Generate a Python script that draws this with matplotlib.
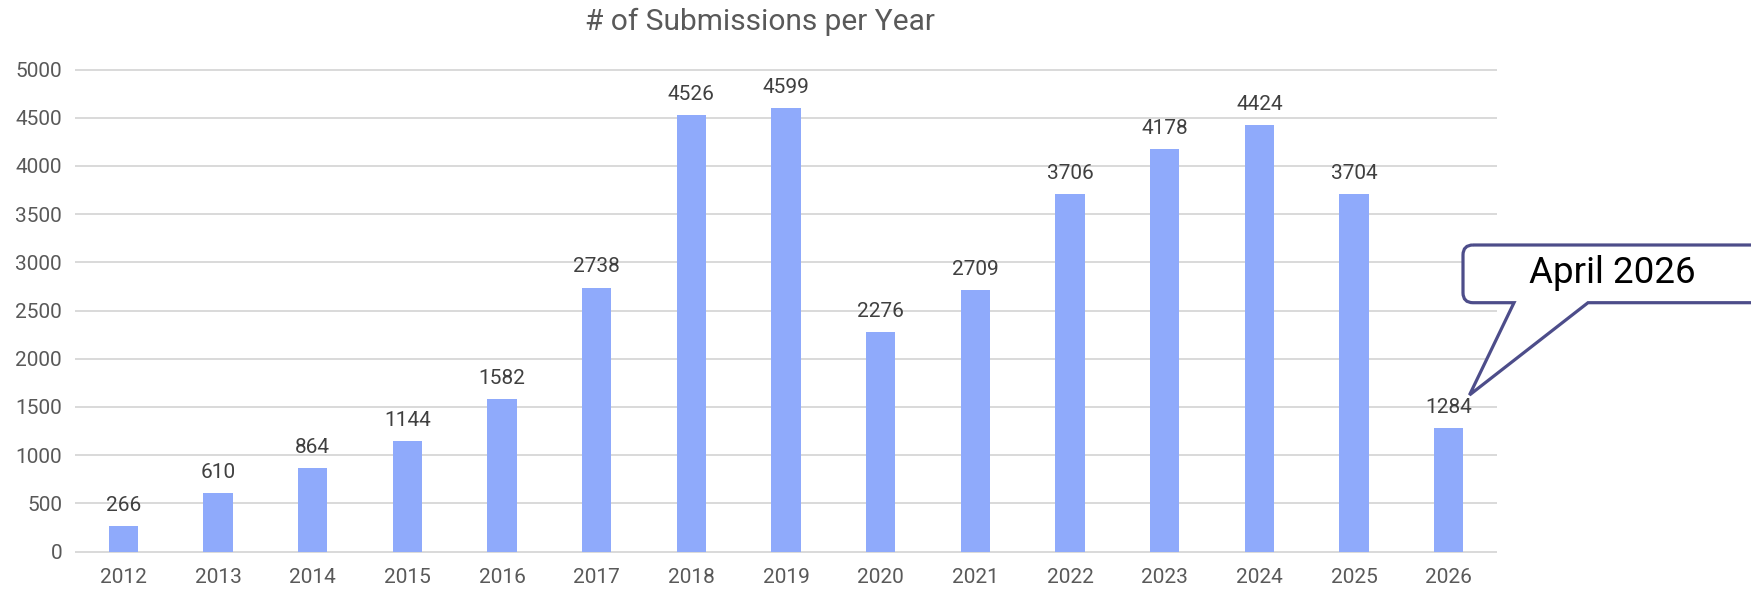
import matplotlib
matplotlib.use("Agg")
import matplotlib.pyplot as plt
from matplotlib.path import Path
from matplotlib.patches import PathPatch
import numpy as np

years = ["2012", "2013", "2014", "2015", "2016", "2017", "2018", "2019",
         "2020", "2021", "2022", "2023", "2024", "2025", "2026"]
submissions = [266, 610, 864, 1144, 1582, 2738, 4526, 4599,
               2276, 2709, 3706, 4178, 4424, 3704, 1284]
yticks = [0, 500, 1000, 1500, 2000, 2500, 3000, 3500, 4000, 4500, 5000]
title = "# of Submissions per Year"
callout_text = "April 2026"

plt.rcParams['font.family'] = ['Roboto', 'DejaVu Sans']

W, H = 1751, 590
fig = plt.figure(figsize=(W / 100, H / 100), dpi=100)
ax = fig.add_axes([76 / W, 1 - 551.6 / H, (1496 - 76) / W, (551.6 - 69.5) / H])

x = np.arange(len(years))
bars = ax.bar(x, submissions, width=0.31, color="#8FAAFB", zorder=3)
ax.set_xlim(-0.5, len(years) - 0.5)
ax.set_ylim(0, 5000)
ax.set_yticks(yticks)
ax.set_yticklabels([str(t) for t in yticks])
ax.set_xticks(x)
ax.set_xticklabels(years)
for s in ax.spines.values():
    s.set_visible(False)
ax.tick_params(axis='both', length=0, colors="#595959", labelsize=15)
ax.tick_params(axis='y', pad=10)
ax.tick_params(axis='x', pad=12)
for t in yticks:
    ax.axhline(t, color="#D9D9D9", lw=1.4, zorder=1, clip_on=False)

for xi, v in zip(x, submissions):
    ax.annotate(str(v), (xi, v), xytext=(0, 8), textcoords="offset points",
                ha="center", va="bottom", fontsize=15, color="#404040")

fig.text(681 * 1751 / 1568 / W, 1 - 22 / H, title, ha="center", va="center",
         fontsize=21.5, color="#595959")

# Callout (rounded box with pointer) in display pixels
tip_disp = ax.transData.transform((len(years) - 1 + 0.22, 1624))
tx, ty = tip_disp
bl, br = 1463, 1800
bt, bb = H - 245, H - 302.7
r = 10
p1, p2 = 1514, 1588
verts = [
    (bl + r, bt), (br, bt), (br, bb), (p2, bb), (tx, ty), (p1, bb),
    (bl + r, bb), (bl, bb), (bl, bb + r), (bl, bt - r), (bl, bt), (bl + r, bt),
]
codes = [Path.MOVETO, Path.LINETO, Path.LINETO, Path.LINETO, Path.LINETO, Path.LINETO,
         Path.LINETO, Path.CURVE3, Path.CURVE3, Path.LINETO, Path.CURVE3, Path.CURVE3]
patch = PathPatch(Path(verts, codes), transform=None, facecolor="white",
                  edgecolor="#4D4D8A", lw=2.3, zorder=10, joinstyle="miter")
fig.patches.append(patch)
fig.text(1612 / W, 1 - 273 / H, callout_text, ha="center", va="center",
         fontsize=26.5, color="black", zorder=11)

fig.savefig("out.png", dpi=100)
